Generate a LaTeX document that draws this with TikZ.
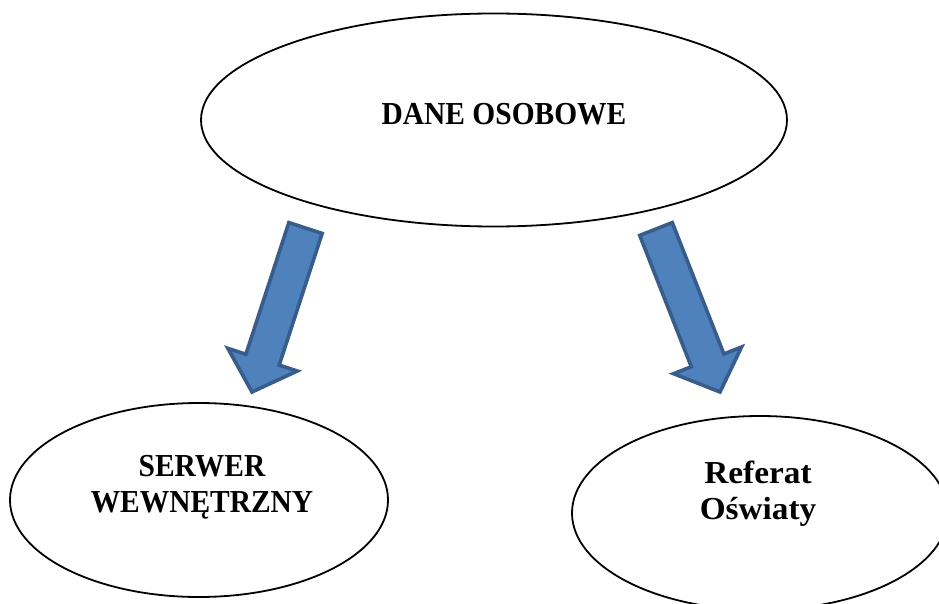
\documentclass[tikz,border=0pt]{standalone}
\usepackage{fontspec}
\setmainfont{Liberation Serif}
\usetikzlibrary{shapes.geometric,calc}
\definecolor{arrowfill}{HTML}{4F81BD}
\definecolor{arrowline}{HTML}{385D8A}
\tikzset{
  bubble/.style={draw=black, line width=1.8pt, ellipse, inner sep=0pt, fill=white},
  caption/.style={font=\fontsize{32}{36}\selectfont\bfseries\addfontfeature{FakeStretch=0.92},
    align=center, anchor=base, inner sep=0pt},
  blockarrow/.style={fill=arrowfill, draw=arrowline, line width=3.6pt, line join=miter},
}
% block arrow from coordinate #1 (tail centre) to #2 (tip)
\newcommand{\blockarrowpath}[2]{%
  \coordinate (#1-n) at ($(#2)!34pt!(#1)$);
  \draw[blockarrow]
    ($(#1)!17.5pt!90:(#2)$) --
    ($(#1-n)!17.5pt!90:(#2)$) --
    ($(#1-n)!36.5pt!90:(#2)$) --
    (#2) --
    ($(#1-n)!36.5pt!-90:(#2)$) --
    ($(#1-n)!17.5pt!-90:(#2)$) --
    ($(#1)!17.5pt!-90:(#2)$) -- cycle;
}
\begin{document}
\begin{tikzpicture}[x=1pt, y=-1pt]
  \useasboundingbox (0,0) rectangle (939,604);
  \clip (0,0) rectangle (939,604);

  % the three ellipses
  \node[bubble, minimum width=586pt, minimum height=213pt] (dane) at (494,120) {};
  \node[bubble, minimum width=378pt, minimum height=194pt] (serwer) at (199,500) {};
  \node[bubble, minimum width=376pt, minimum height=194pt] (referat) at (760,513) {};

  % their labels (base anchor sits on the last line)
  \node[caption] (dane-text) at (504,125) {DANE OSOBOWE};
  \node[caption] (serwer-text) at (202,512) {SERWER\\WEWNĘTRZNY};
  \node[caption, font=\fontsize{32}{36}\selectfont\bfseries\addfontfeature{FakeStretch=1.04}]
    (referat-text) at (758,519) {Referat\\Oświaty};

  % arrows from the top ellipse down to the two targets
  \coordinate (left-tail) at (305.5,228);
  \coordinate (left-tip) at (252,392);
  \coordinate (right-tail) at (656,229);
  \coordinate (right-tip) at (720,392);
  \blockarrowpath{left-tail}{left-tip}
  \blockarrowpath{right-tail}{right-tip}
\end{tikzpicture}
\end{document}
